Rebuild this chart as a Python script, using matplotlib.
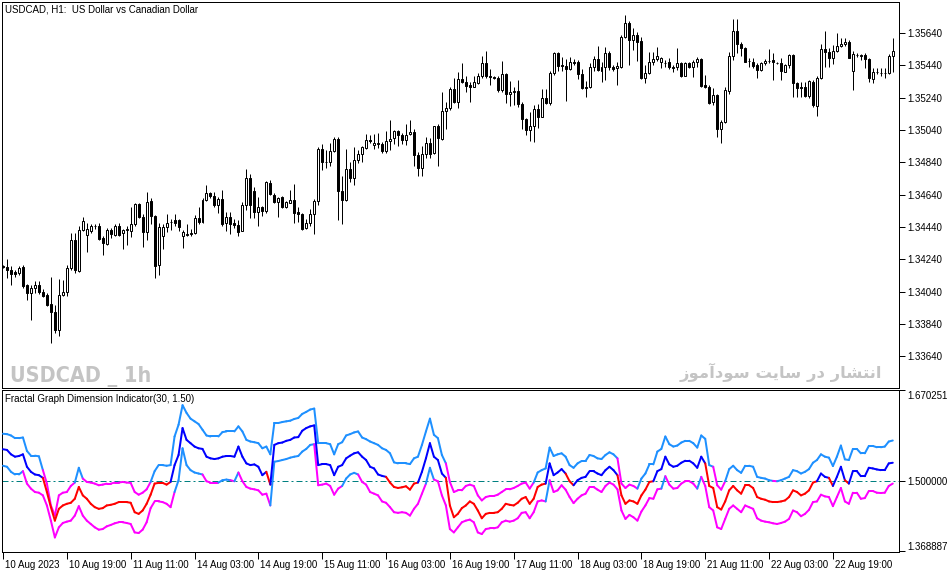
import matplotlib
matplotlib.use("Agg")
import matplotlib.pyplot as plt
import matplotlib.transforms as mtransforms
from matplotlib.collections import LineCollection

plt.rcParams['font.family'] = ['Liberation Sans', 'DejaVu Sans']

# ---------------- data: USDCAD H1 candles ----------------
open_ = [
    1.34197, 1.34189, 1.34173, 1.34158, 1.34154, 1.34191, 1.34078, 1.34031, 1.34061, 1.34082,
    1.34037, 1.34016, 1.33965, 1.33913, 1.33800, 1.34018, 1.34035, 1.34185, 1.34360, 1.34165,
    1.34418, 1.34389, 1.34412, 1.34443, 1.34447, 1.34373, 1.34335, 1.34422, 1.34391, 1.34447,
    1.34401, 1.34422, 1.34412, 1.34457, 1.34583, 1.34500, 1.34406, 1.34601, 1.34509, 1.34202,
    1.34381, 1.34438, 1.34471, 1.34480, 1.34480, 1.34381, 1.34393, 1.34399, 1.34401, 1.34494,
    1.34473, 1.34607, 1.34649, 1.34632, 1.34577, 1.34614, 1.34463, 1.34500, 1.34463, 1.34453,
    1.34416, 1.34577, 1.34741, 1.34663, 1.34535, 1.34562, 1.34541, 1.34710, 1.34638, 1.34593,
    1.34624, 1.34566, 1.34591, 1.34607, 1.34535, 1.34520, 1.34433, 1.34464, 1.34520, 1.34598,
    1.34924, 1.34841, 1.34841, 1.34907, 1.34985, 1.34664, 1.34604, 1.34798, 1.34742, 1.34856,
    1.34891, 1.34928, 1.34979, 1.34948, 1.34954, 1.34954, 1.34911, 1.34973, 1.34989, 1.35035,
    1.35010, 1.34975, 1.35014, 1.35027, 1.34882, 1.34804, 1.34891, 1.34959, 1.34897, 1.35062,
    1.34985, 1.35158, 1.35175, 1.35294, 1.35216, 1.35356, 1.35336, 1.35319, 1.35305, 1.35329,
    1.35371, 1.35453, 1.35371, 1.35366, 1.35360, 1.35288, 1.35387, 1.35261, 1.35278, 1.35280,
    1.35202, 1.35107, 1.35041, 1.35062, 1.35169, 1.35123, 1.35237, 1.35206, 1.35391, 1.35519,
    1.35443, 1.35437, 1.35416, 1.35463, 1.35459, 1.35385, 1.35305, 1.35305, 1.35428, 1.35478,
    1.35407, 1.35428, 1.35514, 1.35432, 1.35422, 1.35432, 1.35617, 1.35700, 1.35595, 1.35628,
    1.35591, 1.35364, 1.35391, 1.35459, 1.35477, 1.35459, 1.35453, 1.35459, 1.35428, 1.35428,
    1.35453, 1.35376, 1.35453, 1.35428, 1.35459, 1.35479, 1.35319, 1.35308, 1.35211, 1.35257,
    1.35045, 1.35088, 1.35284, 1.35498, 1.35652, 1.35570, 1.35549, 1.35467, 1.35463, 1.35442,
    1.35411, 1.35453, 1.35467, 1.35473, 1.35457, 1.35457, 1.35401, 1.35442, 1.35504, 1.35329,
    1.35304, 1.35308, 1.35253, 1.35339, 1.35191, 1.35360, 1.35541, 1.35525, 1.35483, 1.35531,
    1.35562, 1.35570, 1.35586, 1.35405, 1.35504, 1.35500, 1.35504, 1.35477, 1.35356, 1.35397,
    1.35391, 1.35391, 1.35391, 1.35500,
]
high = [
    1.34206, 1.34241, 1.34200, 1.34175, 1.34200, 1.34206, 1.34088, 1.34078, 1.34103, 1.34103,
    1.34055, 1.34031, 1.34127, 1.33958, 1.34117, 1.34113, 1.34206, 1.34401, 1.34401, 1.34443,
    1.34500, 1.34463, 1.34459, 1.34459, 1.34463, 1.34381, 1.34432, 1.34436, 1.34457, 1.34463,
    1.34426, 1.34443, 1.34562, 1.34591, 1.34591, 1.34521, 1.34659, 1.34618, 1.34515, 1.34463,
    1.34459, 1.34521, 1.34488, 1.34519, 1.34488, 1.34422, 1.34459, 1.34426, 1.34515, 1.34566,
    1.34618, 1.34700, 1.34659, 1.34659, 1.34628, 1.34669, 1.34535, 1.34535, 1.34488, 1.34484,
    1.34597, 1.34797, 1.34766, 1.34690, 1.34624, 1.34570, 1.34725, 1.34731, 1.34649, 1.34628,
    1.34632, 1.34603, 1.34669, 1.34706, 1.34566, 1.34526, 1.34491, 1.34551, 1.34612, 1.34934,
    1.34954, 1.34913, 1.34959, 1.34996, 1.34996, 1.34753, 1.34922, 1.34841, 1.34934, 1.34913,
    1.34938, 1.35016, 1.35010, 1.35016, 1.35020, 1.34963, 1.35035, 1.35103, 1.35041, 1.35041,
    1.35024, 1.35078, 1.35103, 1.35045, 1.34903, 1.34938, 1.34996, 1.34990, 1.35066, 1.35078,
    1.35272, 1.35210, 1.35303, 1.35364, 1.35397, 1.35453, 1.35371, 1.35334, 1.35371, 1.35391,
    1.35498, 1.35529, 1.35416, 1.35371, 1.35371, 1.35465, 1.35391, 1.35344, 1.35309, 1.35350,
    1.35210, 1.35113, 1.35154, 1.35195, 1.35202, 1.35294, 1.35296, 1.35408, 1.35523, 1.35523,
    1.35490, 1.35478, 1.35490, 1.35478, 1.35474, 1.35416, 1.35340, 1.35453, 1.35498, 1.35560,
    1.35459, 1.35555, 1.35529, 1.35442, 1.35463, 1.35628, 1.35751, 1.35716, 1.35669, 1.35648,
    1.35617, 1.35442, 1.35520, 1.35525, 1.35551, 1.35494, 1.35473, 1.35483, 1.35442, 1.35549,
    1.35463, 1.35463, 1.35459, 1.35473, 1.35490, 1.35483, 1.35380, 1.35319, 1.35298, 1.35261,
    1.35102, 1.35308, 1.35525, 1.35726, 1.35726, 1.35586, 1.35551, 1.35483, 1.35488, 1.35453,
    1.35463, 1.35477, 1.35541, 1.35514, 1.35463, 1.35488, 1.35446, 1.35508, 1.35508, 1.35339,
    1.35339, 1.35339, 1.35350, 1.35350, 1.35374, 1.35570, 1.35652, 1.35545, 1.35566, 1.35638,
    1.35611, 1.35607, 1.35597, 1.35529, 1.35518, 1.35510, 1.35518, 1.35483, 1.35426, 1.35426,
    1.35422, 1.35422, 1.35508, 1.35607,
]
low = [
    1.34187, 1.34123, 1.34078, 1.34127, 1.34140, 1.34061, 1.33985, 1.33866, 1.34031, 1.34027,
    1.34004, 1.33952, 1.33722, 1.33783, 1.33763, 1.34010, 1.34010, 1.34175, 1.34154, 1.34158,
    1.34412, 1.34282, 1.34401, 1.34430, 1.34360, 1.34267, 1.34329, 1.34370, 1.34385, 1.34385,
    1.34303, 1.34329, 1.34377, 1.34443, 1.34494, 1.34315, 1.34360, 1.34459, 1.34123, 1.34144,
    1.34303, 1.34406, 1.34418, 1.34443, 1.34412, 1.34309, 1.34381, 1.34385, 1.34397, 1.34457,
    1.34467, 1.34601, 1.34618, 1.34562, 1.34525, 1.34443, 1.34412, 1.34395, 1.34432, 1.34381,
    1.34412, 1.34546, 1.34494, 1.34498, 1.34443, 1.34509, 1.34525, 1.34636, 1.34587, 1.34500,
    1.34560, 1.34560, 1.34587, 1.34463, 1.34473, 1.34423, 1.34429, 1.34444, 1.34396, 1.34578,
    1.34790, 1.34804, 1.34818, 1.34901, 1.34481, 1.34458, 1.34598, 1.34716, 1.34697, 1.34835,
    1.34839, 1.34922, 1.34959, 1.34922, 1.34928, 1.34897, 1.34897, 1.34917, 1.34954, 1.34938,
    1.34952, 1.34948, 1.35010, 1.34814, 1.34753, 1.34753, 1.34866, 1.34866, 1.34891, 1.34814,
    1.34979, 1.35047, 1.35165, 1.35206, 1.35179, 1.35329, 1.35278, 1.35212, 1.35303, 1.35325,
    1.35364, 1.35360, 1.35319, 1.35354, 1.35278, 1.35278, 1.35206, 1.35189, 1.35195, 1.35185,
    1.35047, 1.35010, 1.34969, 1.34963, 1.35051, 1.35119, 1.35202, 1.35195, 1.35381, 1.35406,
    1.35402, 1.35220, 1.35412, 1.35443, 1.35354, 1.35292, 1.35243, 1.35298, 1.35402, 1.35408,
    1.35339, 1.35350, 1.35411, 1.35405, 1.35319, 1.35426, 1.35611, 1.35442, 1.35535, 1.35467,
    1.35356, 1.35333, 1.35385, 1.35442, 1.35467, 1.35426, 1.35432, 1.35417, 1.35401, 1.35411,
    1.35370, 1.35372, 1.35422, 1.35370, 1.35432, 1.35308, 1.35298, 1.35203, 1.35195, 1.34999,
    1.34958, 1.35082, 1.35261, 1.35473, 1.35514, 1.35500, 1.35459, 1.35432, 1.35422, 1.35364,
    1.35407, 1.35442, 1.35457, 1.35350, 1.35446, 1.35350, 1.35397, 1.35422, 1.35247, 1.35247,
    1.35247, 1.35247, 1.35240, 1.35185, 1.35129, 1.35356, 1.35428, 1.35432, 1.35448, 1.35520,
    1.35555, 1.35562, 1.35483, 1.35288, 1.35490, 1.35473, 1.35426, 1.35339, 1.35329, 1.35385,
    1.35376, 1.35360, 1.35387, 1.35401,
]
close = [
    1.34193, 1.34173, 1.34148, 1.34148, 1.34187, 1.34072, 1.34031, 1.34061, 1.34078, 1.34035,
    1.34010, 1.33958, 1.33911, 1.33800, 1.34020, 1.34039, 1.34185, 1.34360, 1.34171, 1.34422,
    1.34476, 1.34426, 1.34447, 1.34445, 1.34368, 1.34340, 1.34422, 1.34397, 1.34443, 1.34391,
    1.34422, 1.34424, 1.34457, 1.34583, 1.34500, 1.34406, 1.34593, 1.34509, 1.34200, 1.34438,
    1.34438, 1.34467, 1.34473, 1.34467, 1.34438, 1.34406, 1.34397, 1.34403, 1.34494, 1.34473,
    1.34607, 1.34649, 1.34632, 1.34577, 1.34614, 1.34459, 1.34500, 1.34459, 1.34449, 1.34406,
    1.34577, 1.34741, 1.34577, 1.34535, 1.34562, 1.34541, 1.34715, 1.34642, 1.34597, 1.34618,
    1.34566, 1.34597, 1.34607, 1.34529, 1.34521, 1.34429, 1.34464, 1.34522, 1.34598, 1.34924,
    1.34839, 1.34839, 1.34911, 1.34985, 1.34660, 1.34604, 1.34798, 1.34742, 1.34856, 1.34893,
    1.34932, 1.34979, 1.34969, 1.34959, 1.34957, 1.34911, 1.34973, 1.34985, 1.35031, 1.35006,
    1.34975, 1.35010, 1.35027, 1.34882, 1.34804, 1.34891, 1.34959, 1.34893, 1.35062, 1.34990,
    1.35158, 1.35175, 1.35294, 1.35210, 1.35356, 1.35334, 1.35315, 1.35305, 1.35334, 1.35375,
    1.35453, 1.35371, 1.35366, 1.35360, 1.35288, 1.35387, 1.35261, 1.35274, 1.35280, 1.35200,
    1.35107, 1.35041, 1.35062, 1.35169, 1.35123, 1.35237, 1.35206, 1.35391, 1.35519, 1.35437,
    1.35437, 1.35416, 1.35463, 1.35453, 1.35385, 1.35298, 1.35298, 1.35428, 1.35478, 1.35412,
    1.35430, 1.35514, 1.35428, 1.35415, 1.35436, 1.35617, 1.35700, 1.35595, 1.35628, 1.35586,
    1.35364, 1.35391, 1.35459, 1.35477, 1.35500, 1.35483, 1.35455, 1.35428, 1.35426, 1.35453,
    1.35376, 1.35453, 1.35428, 1.35459, 1.35477, 1.35312, 1.35308, 1.35209, 1.35257, 1.35045,
    1.35088, 1.35288, 1.35498, 1.35652, 1.35570, 1.35545, 1.35463, 1.35465, 1.35436, 1.35411,
    1.35453, 1.35467, 1.35469, 1.35459, 1.35455, 1.35405, 1.35442, 1.35504, 1.35329, 1.35298,
    1.35302, 1.35253, 1.35343, 1.35195, 1.35360, 1.35541, 1.35525, 1.35483, 1.35531, 1.35562,
    1.35570, 1.35586, 1.35488, 1.35508, 1.35506, 1.35502, 1.35477, 1.35360, 1.35401, 1.35399,
    1.35393, 1.35393, 1.35500, 1.35531,
]

# ---------------- data: Fractal Graph Dimension Indicator(30, 1.50) ----------------
fgdi_upper = [
    1.5886, 1.5879, 1.5854, 1.5804, 1.5804, 1.5816, 1.5565, 1.5477, 1.5477, 1.5465,
    1.5207, 1.4956, 1.4548, 1.4359, 1.4736, 1.4786, 1.4799, 1.4912, 1.4975, 1.5251,
    1.5050, 1.4987, 1.4975, 1.4956, 1.4925, 1.4937, 1.4956, 1.4956, 1.4975, 1.4975,
    1.4987, 1.4975, 1.4969, 1.4799, 1.4749, 1.4786, 1.4849, 1.4987, 1.5188, 1.5301,
    1.5301, 1.5289, 1.5301, 1.5835, 1.6055, 1.6419, 1.6275, 1.6168, 1.6118, 1.6068,
    1.5961, 1.5854, 1.5835, 1.5835, 1.5835, 1.5917, 1.5929, 1.5929, 1.5929, 1.6024,
    1.5929, 1.5772, 1.5741, 1.5728, 1.5710, 1.5615, 1.5647, 1.5502, 1.6086, 1.6086,
    1.6105, 1.6118, 1.6130, 1.6162, 1.6181, 1.6256, 1.6294, 1.6338, 1.6356, 1.5710,
    1.5710, 1.5710, 1.5691, 1.5502, 1.5691, 1.5728, 1.5854, 1.5879, 1.5911, 1.5929,
    1.5816, 1.5785, 1.5741, 1.5710, 1.5678, 1.5615, 1.5584, 1.5521, 1.5352, 1.5333,
    1.5333, 1.5333, 1.5320, 1.5427, 1.5458, 1.5678, 1.5929, 1.6168, 1.5867, 1.5804,
    1.5490, 1.5333, 1.4987, 1.4799, 1.4830, 1.4830, 1.4912, 1.4937, 1.4912, 1.4736,
    1.4642, 1.4705, 1.4724, 1.4724, 1.4749, 1.4799, 1.4849, 1.4849, 1.4874, 1.4912,
    1.4956, 1.4975, 1.4862, 1.4975, 1.5163, 1.5207, 1.5239, 1.5628, 1.5471, 1.5502,
    1.5521, 1.5458, 1.5301, 1.5251, 1.5333, 1.5377, 1.5377, 1.5490, 1.5471, 1.5427,
    1.5414, 1.5490, 1.5540, 1.5502, 1.5427, 1.4956, 1.4874, 1.4937, 1.4912, 1.4862,
    1.5050, 1.5144, 1.5314, 1.5314, 1.5553, 1.5603, 1.5835, 1.5691, 1.5647, 1.5666,
    1.5722, 1.5754, 1.5754, 1.5710, 1.5628, 1.5854, 1.5791, 1.5301, 1.5270, 1.4925,
    1.4843, 1.5000, 1.5226, 1.5289, 1.5207, 1.5157, 1.5289, 1.5289, 1.5270, 1.5082,
    1.5063, 1.5050, 1.5019, 1.5006, 1.5000, 1.5019, 1.5050, 1.5082, 1.5207, 1.5188,
    1.5144, 1.5176, 1.5226, 1.5345, 1.5396, 1.5502, 1.5458, 1.5440, 1.5283, 1.5458,
    1.5666, 1.5408, 1.5396, 1.5603, 1.5603, 1.5521, 1.5521, 1.5659, 1.5659, 1.5634,
    1.5634, 1.5647, 1.5741, 1.5760,
]
fgdi_main = [
    1.5597, 1.5584, 1.5502, 1.5458, 1.5471, 1.5502, 1.5270, 1.5176, 1.5126, 1.5113,
    1.5063, 1.4799, 1.4516, 1.4265, 1.4485, 1.4548, 1.4579, 1.4598, 1.4673, 1.4893,
    1.4736, 1.4673, 1.4579, 1.4516, 1.4485, 1.4498, 1.4548, 1.4560, 1.4579, 1.4611,
    1.4611, 1.4611, 1.4598, 1.4422, 1.4391, 1.4454, 1.4579, 1.4749, 1.4956, 1.4969,
    1.4969, 1.4937, 1.4987, 1.5301, 1.5490, 1.5992, 1.5772, 1.5710, 1.5647, 1.5615,
    1.5603, 1.5458, 1.5427, 1.5414, 1.5427, 1.5458, 1.5471, 1.5471, 1.5458, 1.5647,
    1.5458, 1.5333, 1.5301, 1.5314, 1.5270, 1.5113, 1.5176, 1.4937, 1.5678, 1.5710,
    1.5722, 1.5754, 1.5772, 1.5816, 1.5823, 1.5942, 1.5992, 1.6024, 1.6042, 1.5301,
    1.5320, 1.5320, 1.5301, 1.5113, 1.5270, 1.5301, 1.5427, 1.5477, 1.5521, 1.5540,
    1.5458, 1.5396, 1.5270, 1.5239, 1.5126, 1.5100, 1.5082, 1.4975, 1.4893, 1.4874,
    1.4887, 1.4906, 1.4843, 1.4956, 1.4975, 1.5176, 1.5427, 1.5710, 1.5458, 1.5396,
    1.5144, 1.5063, 1.4548, 1.4328, 1.4391, 1.4498, 1.4548, 1.4623, 1.4579, 1.4454,
    1.4309, 1.4391, 1.4410, 1.4410, 1.4422, 1.4485, 1.4579, 1.4560, 1.4548, 1.4598,
    1.4673, 1.4705, 1.4579, 1.4673, 1.4893, 1.4937, 1.4956, 1.5333, 1.5113, 1.5163,
    1.5226, 1.5144, 1.5000, 1.4925, 1.5019, 1.5063, 1.5082, 1.5188, 1.5188, 1.5144,
    1.5113, 1.5207, 1.5270, 1.5207, 1.5113, 1.4736, 1.4579, 1.4642, 1.4623, 1.4579,
    1.4736, 1.4843, 1.4987, 1.5000, 1.5188, 1.5226, 1.5458, 1.5314, 1.5270, 1.5289,
    1.5345, 1.5383, 1.5383, 1.5333, 1.5251, 1.5458, 1.5333, 1.4912, 1.4874, 1.4516,
    1.4472, 1.4623, 1.4830, 1.4912, 1.4830, 1.4768, 1.4925, 1.4925, 1.4874, 1.4705,
    1.4673, 1.4655, 1.4623, 1.4611, 1.4611, 1.4623, 1.4642, 1.4705, 1.4830, 1.4799,
    1.4736, 1.4768, 1.4830, 1.4975, 1.5000, 1.5144, 1.5082, 1.5063, 1.4912, 1.5082,
    1.5270, 1.5019, 1.4956, 1.5188, 1.5188, 1.5094, 1.5094, 1.5251, 1.5239, 1.5220,
    1.5207, 1.5207, 1.5333, 1.5345,
]
fgdi_lower = [
    1.5289, 1.5270, 1.5176, 1.5126, 1.5126, 1.5188, 1.4956, 1.4862, 1.4799, 1.4786,
    1.4736, 1.4548, 1.4265, 1.3951, 1.4140, 1.4221, 1.4246, 1.4265, 1.4359, 1.4535,
    1.4359, 1.4265, 1.4202, 1.4140, 1.4096, 1.4108, 1.4158, 1.4184, 1.4215, 1.4234,
    1.4234, 1.4221, 1.4202, 1.4045, 1.4033, 1.4096, 1.4234, 1.4498, 1.4623, 1.4623,
    1.4611, 1.4579, 1.4516, 1.4799, 1.5019, 1.5615, 1.5301, 1.5207, 1.5163, 1.5144,
    1.5126, 1.5000, 1.4975, 1.4975, 1.4975, 1.5019, 1.5031, 1.5019, 1.5000, 1.5163,
    1.5000, 1.4893, 1.4862, 1.4849, 1.4830, 1.4749, 1.4768, 1.4548, 1.5364, 1.5377,
    1.5396, 1.5414, 1.5440, 1.5458, 1.5471, 1.5553, 1.5603, 1.5678, 1.5691, 1.4925,
    1.4937, 1.4956, 1.4912, 1.4749, 1.4862, 1.4912, 1.5050, 1.5126, 1.5157, 1.5126,
    1.4987, 1.4937, 1.4799, 1.4768, 1.4736, 1.4623, 1.4598, 1.4516, 1.4422, 1.4410,
    1.4422, 1.4410, 1.4359, 1.4485, 1.4579, 1.4768, 1.4956, 1.5251, 1.5031, 1.5000,
    1.4736, 1.4548, 1.4108, 1.4045, 1.4140, 1.4234, 1.4265, 1.4284, 1.4234, 1.4045,
    1.4014, 1.4108, 1.4121, 1.4121, 1.4140, 1.4234, 1.4265, 1.4246, 1.4265, 1.4309,
    1.4410, 1.4422, 1.4309, 1.4422, 1.4623, 1.4642, 1.4623, 1.5019, 1.4799, 1.4830,
    1.4925, 1.4843, 1.4705, 1.4592, 1.4673, 1.4736, 1.4768, 1.4893, 1.4893, 1.4843,
    1.4799, 1.4912, 1.4975, 1.4937, 1.4849, 1.4454, 1.4297, 1.4372, 1.4328, 1.4265,
    1.4435, 1.4548, 1.4686, 1.4673, 1.4849, 1.4862, 1.5094, 1.4937, 1.4862, 1.4874,
    1.4956, 1.5000, 1.5000, 1.4956, 1.4862, 1.5082, 1.4912, 1.4516, 1.4454, 1.4140,
    1.4108, 1.4297, 1.4485, 1.4548, 1.4485, 1.4422, 1.4548, 1.4516, 1.4485, 1.4309,
    1.4265, 1.4246, 1.4234, 1.4215, 1.4202, 1.4221, 1.4246, 1.4297, 1.4454, 1.4422,
    1.4347, 1.4391, 1.4466, 1.4611, 1.4623, 1.4749, 1.4717, 1.4705, 1.4535, 1.4705,
    1.4874, 1.4623, 1.4579, 1.4786, 1.4786, 1.4673, 1.4686, 1.4818, 1.4818, 1.4786,
    1.4780, 1.4786, 1.4912, 1.4956,
]
fgdi_level = 1.5

time_labels = ["10 Aug 2023", "10 Aug 19:00", "11 Aug 11:00", "14 Aug 03:00", "14 Aug 19:00",
               "15 Aug 11:00", "16 Aug 03:00", "16 Aug 19:00", "17 Aug 11:00", "18 Aug 03:00",
               "18 Aug 19:00", "21 Aug 11:00", "22 Aug 03:00", "22 Aug 19:00"]
price_ticks = [1.33640, 1.33840, 1.34040, 1.34240, 1.34440, 1.34640,
               1.34840, 1.35040, 1.35240, 1.35440, 1.35640]
fgdi_ticks = [1.368887, 1.500000, 1.670251]

chart_title = "USDCAD, H1:  US Dollar vs Canadian Dollar"
ind_title = "Fractal Graph Dimension Indicator(30, 1.50)"
watermark = "USDCAD _ 1h"
site_text = "انتشار در سایت سودآموز"


# matplotlib has no arabic shaping, so pick the contextual glyph forms by hand
FA_FORMS = {  # isolated, final, initial, medial
    'ا': ('\uFE8D', '\uFE8E', None, None),
    'آ': ('\uFE81', '\uFE82', None, None),
    'ن': ('\uFEE5', '\uFEE6', '\uFEE7', '\uFEE8'),
    'ت': ('\uFE95', '\uFE96', '\uFE97', '\uFE98'),
    'ش': ('\uFEB5', '\uFEB6', '\uFEB7', '\uFEB8'),
    'ر': ('\uFEAD', '\uFEAE', None, None),
    'د': ('\uFEA9', '\uFEAA', None, None),
    'س': ('\uFEB1', '\uFEB2', '\uFEB3', '\uFEB4'),
    'ی': ('\uFEEF', '\uFEF0', '\uFEF3', '\uFEF4'),
    'و': ('\uFEED', '\uFEEE', None, None),
    'م': ('\uFEE1', '\uFEE2', '\uFEE3', '\uFEE4'),
    'ز': ('\uFEAF', '\uFEB0', None, None),
}


def shape_fa(text):
    words = []
    for word in text.split(' '):
        out = ''
        for k, ch in enumerate(word):
            iso, fin, ini, med = FA_FORMS[ch]
            joins_prev = k > 0 and FA_FORMS[word[k - 1]][2] is not None
            joins_next = ini is not None and k < len(word) - 1
            if joins_prev and joins_next:
                out += med
            elif joins_prev:
                out += fin
            elif joins_next:
                out += ini
            else:
                out += iso
        words.append(out)
    return ' '.join(words)[::-1]


W, H = 951, 572
PX = 72 / 100  # one pixel in points at dpi 100
n = len(close)
bars = list(range(n))

fig = plt.figure(figsize=(W / 100, H / 100), dpi=100)
ax = fig.add_axes([2 / W, 1 - 388 / H, 897 / W, 386 / H])
ax_i = fig.add_axes([2 / W, 1 - 551.5 / H, 897 / W, 161.5 / H])

x_lo = -1 / 3.99
x_hi = x_lo + 897 / 3.99

# ---- candles ----
ax.vlines(bars, low, high, color='black', lw=PX, zorder=2)
bodies = [c - o for o, c in zip(open_, close)]
fills = ['white' if c >= o else 'black' for o, c in zip(open_, close)]
ax.bar(bars, bodies, bottom=open_, width=0.5, color=fills, edgecolor='black',
       linewidth=PX, zorder=3)

ax.set_xlim(x_lo, x_hi)
ax.set_ylim(1.33443, 1.35832)
ax.set_xticks([])
ax.set_yticks(price_ticks)
ax.set_yticklabels([f"{v:.5f}" for v in price_ticks])

ax.text(8 / 897, 1 - 380 / 386, watermark, transform=ax.transAxes,
        family=['DejaVu Sans'], stretch='condensed', weight='bold',
        fontsize=15.5, color='#c4c4c4', ha='left', va='baseline', zorder=1)
ax.text(880 / 897, 1 - 376 / 386, shape_fa(site_text), transform=ax.transAxes,
        family=['DejaVu Sans'], weight='bold', fontsize=11.8,
        color='#c4c4c4', ha='right', va='baseline', zorder=1)

# ---- indicator ----
def colored_line(axis, values, col_up, col_dn, lw):
    segs, cols = [], []
    for i in range(1, len(values)):
        segs.append([(i - 1, values[i - 1]), (i, values[i])])
        cols.append(col_up if values[i] > fgdi_level else col_dn)
    lc = LineCollection(segs, colors=cols, linewidths=lw, capstyle='round',
                        joinstyle='round', zorder=3)
    axis.add_collection(lc)

ax_i.axhline(fgdi_level, color='#008080', lw=PX, dashes=(6, 3, 2, 3), zorder=1)
colored_line(ax_i, fgdi_upper, '#1e90ff', '#ff00ff', 2 * PX)
colored_line(ax_i, fgdi_lower, '#1e90ff', '#ff00ff', 2 * PX)
colored_line(ax_i, fgdi_main, '#0000ff', '#ff0000', 2 * PX)

ax_i.set_xlim(x_lo, x_hi)
ax_i.set_ylim(fgdi_ticks[0], fgdi_ticks[-1])
ax_i.set_xticks(bars[::16][:len(time_labels)])
ax_i.set_xticklabels(time_labels)

for a in (ax, ax_i):
    for sp in a.spines.values():
        sp.set_linewidth(PX)
        sp.set_color('black')
    a.yaxis.tick_right()
    a.tick_params(axis='y', direction='out', length=4, width=PX, pad=2,
                  labelsize=7, colors='black')
ax_i.tick_params(axis='x', direction='out', length=5, width=PX, pad=1, labelsize=7)

# indicator scale: min and max labels sit inside the pane edges
ax_i.set_yticks(fgdi_ticks)
ax_i.set_yticklabels([f"{v:.6f}" for v in fgdi_ticks])
ylabels = ax_i.get_yticklabels()
ylabels[0].set_transform(ylabels[0].get_transform() +
                         mtransforms.ScaledTranslation(0, 5 / 100, fig.dpi_scale_trans))
ylabels[-1].set_transform(ylabels[-1].get_transform() +
                          mtransforms.ScaledTranslation(0, -5 / 100, fig.dpi_scale_trans))

shift = mtransforms.ScaledTranslation(2 / 100, 0, fig.dpi_scale_trans)
for lbl in ax_i.get_xticklabels():
    lbl.set_ha('left')
    lbl.set_transform(lbl.get_transform() + shift)

fig.text(5 / W, 1 - 9 / H, chart_title, fontsize=7, ha='left', va='center')
fig.text(5 / W, 1 - 399 / H, ind_title, fontsize=7, ha='left', va='center')

fig.savefig("out.png", dpi=100, facecolor='white')
